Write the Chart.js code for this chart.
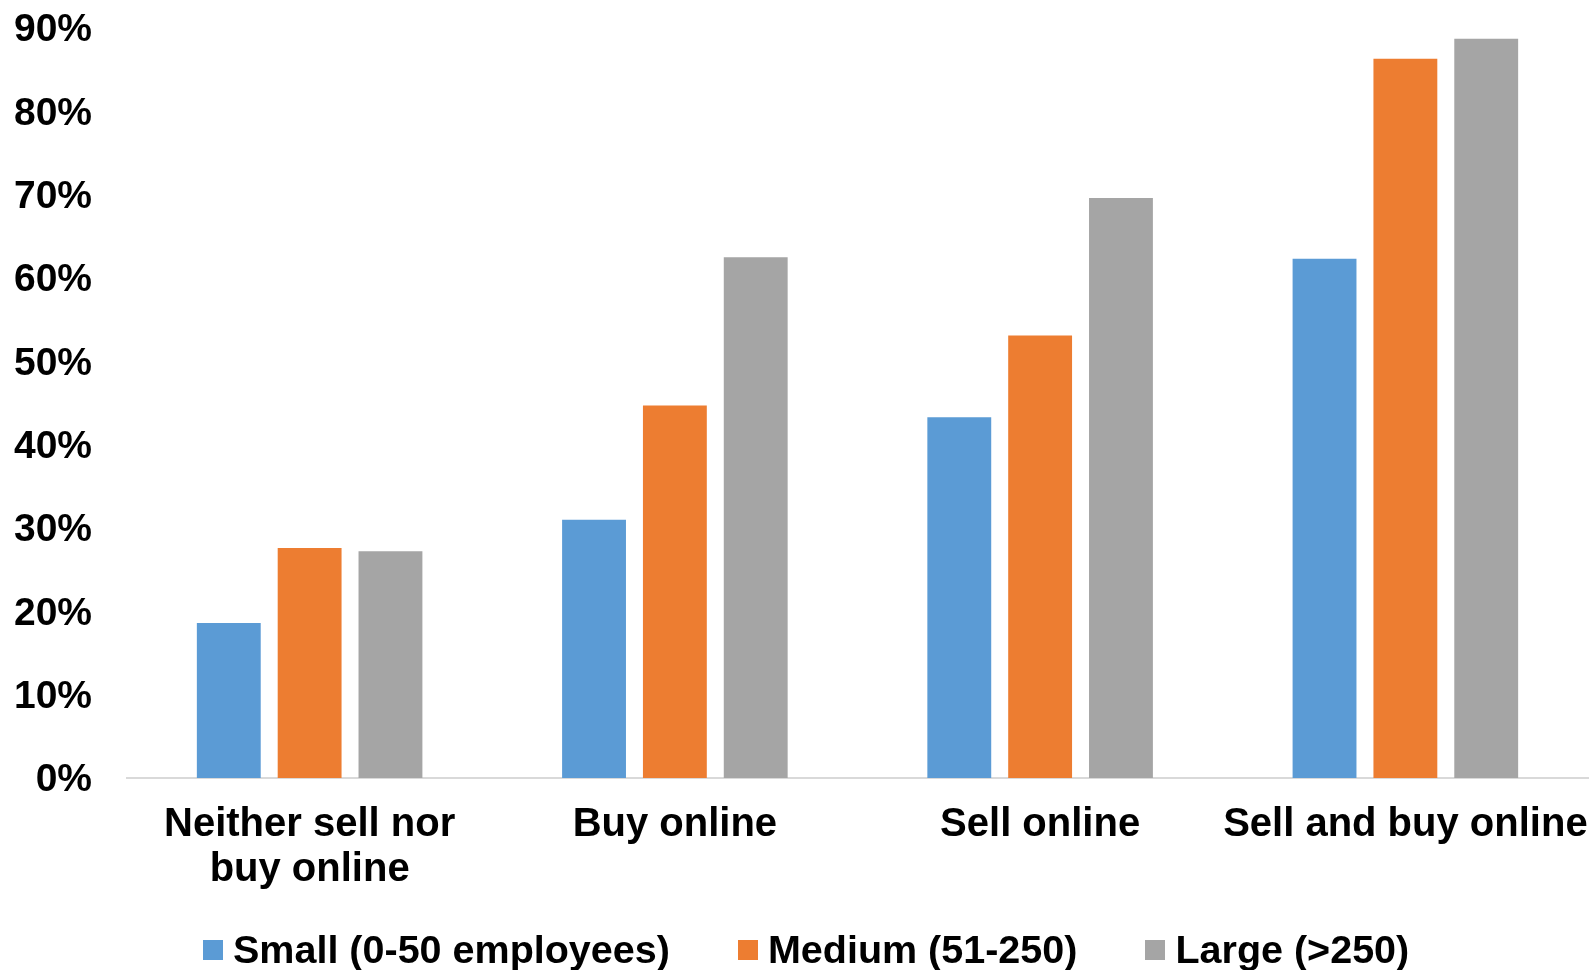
<!DOCTYPE html>
<html>
<head>
<meta charset="utf-8">
<script src="https://cdn.jsdelivr.net/npm/chart.js@4/dist/chart.umd.min.js"></script>
<style>
  html, body { margin: 0; padding: 0; background: #fff; }
  #wrap { position: relative; width: 1591px; height: 970px; }
  #legend {
    position: absolute; left: 203px; top: 927px;
    display: flex; align-items: center;
    font: bold 39.5px "Liberation Sans", Arial, sans-serif; color: #000;
  }
  #legend .item { display: flex; align-items: center; margin-right: 68px; }
  #legend .box { width: 20px; height: 20px; margin-right: 10px; }
</style>
</head>
<body>
<div id="wrap">
  <canvas id="onlineChart"></canvas>
  <div id="legend"></div>
</div>
<script>
const categories = [['Neither sell nor', 'buy online'], 'Buy online', 'Sell online', 'Sell and buy online'];
const seriesNames = ['Small (0-50 employees)', 'Medium (51-250)', 'Large (>250)'];
const small = [18.6, 31.0, 43.3, 62.3];
const medium = [27.6, 44.7, 53.1, 86.3];
const large = [27.2, 62.5, 69.6, 88.7];
const colors = ['#5B9BD5', '#ED7D31', '#A5A5A5'];

const fontFamily = '"Liberation Sans", Arial, sans-serif';

const ctx = document.getElementById('onlineChart').getContext('2d');
const onlineChart = new Chart(ctx, {
    type: 'bar',
    data: {
        labels: categories,
        datasets: [small, medium, large].map((d, i) => ({
            label: seriesNames[i],
            data: d,
            backgroundColor: colors[i],
            categoryPercentage: 0.664,
            barPercentage: 0.79
        }))
    },
    options: {
        responsive: true,
        maintainAspectRatio: false,
        animation: false,
        layout: { padding: { left: 14, right: 3, top: 28, bottom: 81 } },
        plugins: {
            legend: { display: false },
            tooltip: { enabled: false }
        },
        scales: {
            x: {
                grid: { display: false, drawTicks: false },
                border: { display: true, color: '#D9D9D9', width: 2 },
                ticks: {
                    color: '#000',
                    padding: 25,
                    maxRotation: 0,
                    autoSkip: false,
                    font: { family: fontFamily, size: 40, weight: 'bold', lineHeight: 1.12 }
                },
                // fixed axis height, no extra side padding for long labels
                afterFit: function(scale) {
                    scale.height = 111;
                    scale.paddingLeft = 0;
                    scale.paddingRight = 0;
                }
            },
            y: {
                min: 0,
                max: 90,
                grid: { display: false, drawTicks: false },
                border: { display: false },
                ticks: {
                    stepSize: 10,
                    color: '#000',
                    padding: 35,
                    labelOffset: 2.5,
                    font: { family: fontFamily, size: 39, weight: 'bold' },
                    callback: function(value) {
                        return value + '%';
                    }
                },
                afterFit: function(scale) {
                    scale.width = 113;
                    scale.paddingTop = 0;
                    scale.paddingBottom = 0;
                }
            }
        }
    }
});

// legend under the chart
const legendEl = document.getElementById('legend');
seriesNames.forEach((name, i) => {
    const item = document.createElement('div');
    item.className = 'item';
    const box = document.createElement('span');
    box.className = 'box';
    box.style.background = colors[i];
    const txt = document.createElement('span');
    txt.textContent = name;
    item.appendChild(box);
    item.appendChild(txt);
    legendEl.appendChild(item);
});
</script>
</body>
</html>
